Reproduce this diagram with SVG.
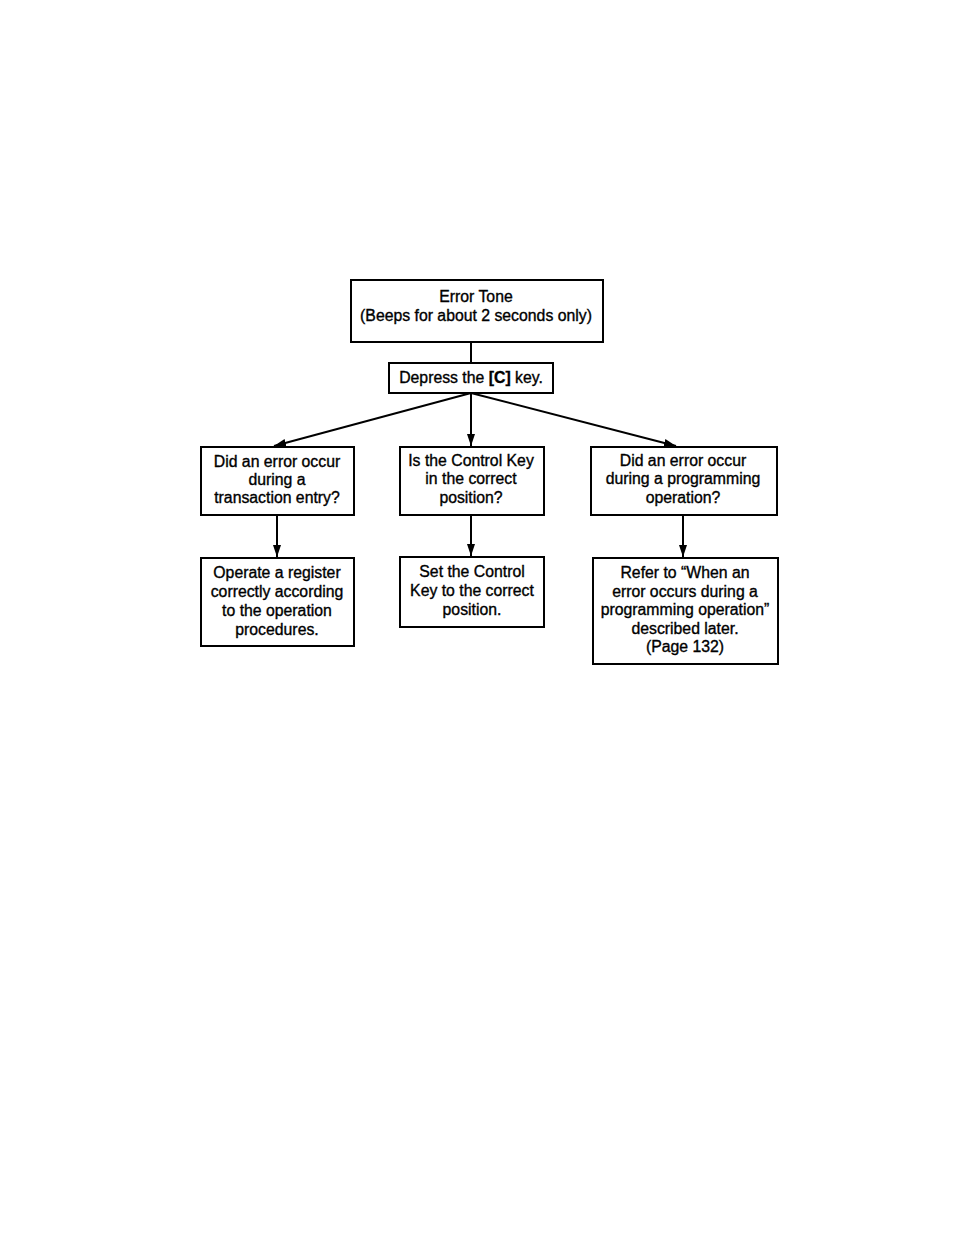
<svg xmlns="http://www.w3.org/2000/svg" width="954" height="1235" viewBox="0 0 954 1235">
<style>
.box{fill:#fff;stroke:#000;stroke-width:2}
.t{font-family:"Liberation Sans",Arial,sans-serif;font-size:15.8px;fill:#000;stroke:#000;stroke-width:0.35;text-anchor:middle}
.c{stroke:#000;stroke-width:2;fill:none}
</style>
<defs>
<marker id="ah2" viewBox="0 0 10 10" refX="10" refY="5" markerWidth="12" markerHeight="8" markerUnits="userSpaceOnUse" orient="auto" preserveAspectRatio="none">
<path d="M0,0 L10,5 L0,10 Z" fill="#000"/>
</marker>
</defs>
<rect width="954" height="1235" fill="#fff"/>
<g id="connectors">
<line class="c" x1="471" y1="342" x2="471" y2="363"/>
<line class="c" x1="471" y1="393" x2="274" y2="446" marker-end="url(#ah2)"/>
<line class="c" x1="471" y1="393" x2="471" y2="446" marker-end="url(#ah2)"/>
<line class="c" x1="471" y1="393" x2="676" y2="446" marker-end="url(#ah2)"/>
<line class="c" x1="277" y1="515" x2="277" y2="557" marker-end="url(#ah2)"/>
<line class="c" x1="471" y1="515" x2="471" y2="556" marker-end="url(#ah2)"/>
<line class="c" x1="683" y1="515" x2="683" y2="557" marker-end="url(#ah2)"/>
</g>
<g id="n_error">
<rect class="box" x="351" y="280" width="252" height="62"/>
<text class="t" x="476" y="302">Error Tone</text>
<text class="t" x="476" y="321">(Beeps for about 2 seconds only)</text>
</g>
<g id="n_depress">
<rect class="box" x="389" y="363" width="164" height="30"/>
<text class="t" x="471" y="383">Depress the <tspan font-weight="bold">[C]</tspan> key.</text>
</g>
<g id="n_q1">
<rect class="box" x="201" y="447" width="153" height="68"/>
<text class="t" x="277" y="467">Did an error occur</text>
<text class="t" x="277" y="485">during a</text>
<text class="t" x="277" y="503">transaction entry?</text>
</g>
<g id="n_q2">
<rect class="box" x="400" y="447" width="144" height="68"/>
<text class="t" x="471" y="466">Is the Control Key</text>
<text class="t" x="471" y="484">in the correct</text>
<text class="t" x="471" y="503">position?</text>
</g>
<g id="n_q3">
<rect class="box" x="591" y="447" width="186" height="68"/>
<text class="t" x="683" y="466">Did an error occur</text>
<text class="t" x="683" y="484">during a programming</text>
<text class="t" x="683" y="503">operation?</text>
</g>
<g id="n_a1">
<rect class="box" x="201" y="558" width="153" height="88"/>
<text class="t" x="277" y="578">Operate a register</text>
<text class="t" x="277" y="597">correctly according</text>
<text class="t" x="277" y="616">to the operation</text>
<text class="t" x="277" y="635">procedures.</text>
</g>
<g id="n_a2">
<rect class="box" x="400" y="557" width="144" height="70"/>
<text class="t" x="472" y="577">Set the Control</text>
<text class="t" x="472" y="596">Key to the correct</text>
<text class="t" x="472" y="615">position.</text>
</g>
<g id="n_a3">
<rect class="box" x="593" y="558" width="185" height="106"/>
<text class="t" x="685" y="578">Refer to “When an</text>
<text class="t" x="685" y="597">error occurs during a</text>
<text class="t" x="685" y="615">programming operation”</text>
<text class="t" x="685" y="634">described later.</text>
<text class="t" x="685" y="652">(Page 132)</text>
</g>
</svg>
